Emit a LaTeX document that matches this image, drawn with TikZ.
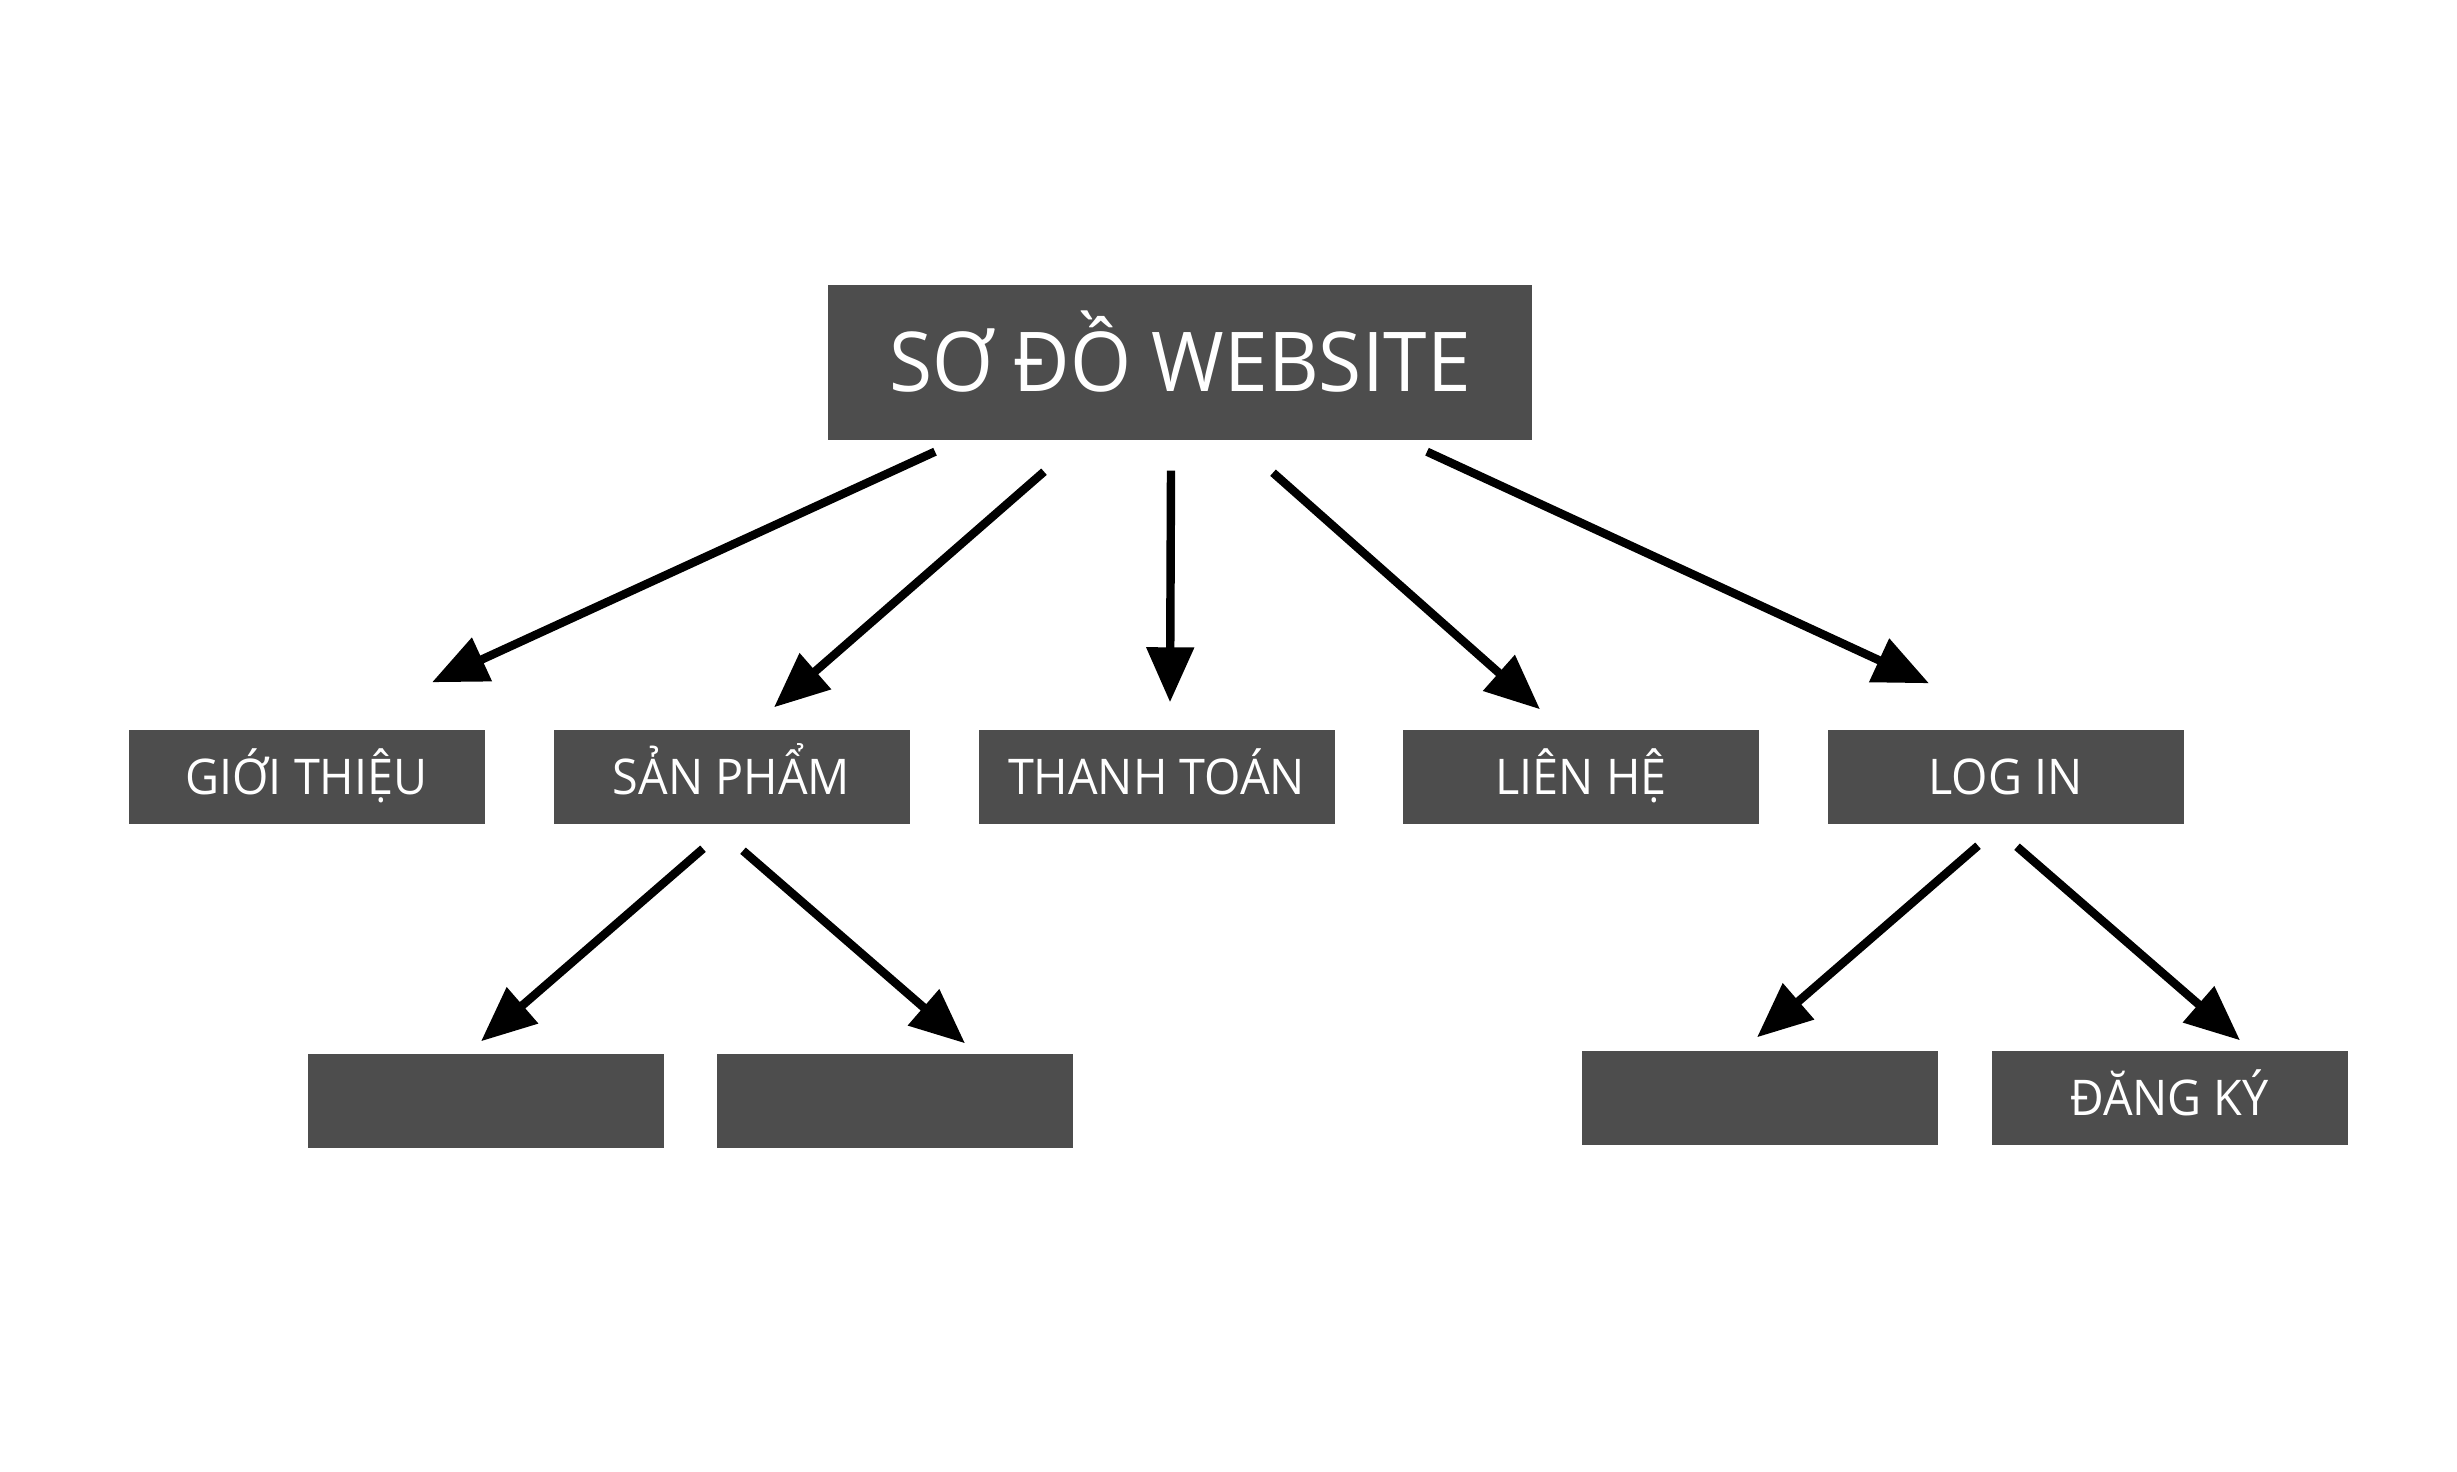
\documentclass[tikz,border=0pt]{standalone}
\usepackage{fontspec}
\setmainfont{Open Sans}[FakeStretch=0.95]
\usetikzlibrary{arrows.meta}
\definecolor{boxgray}{RGB}{77,77,77}
\begin{document}
\begin{tikzpicture}[
title/.style ={rectangle, fill=boxgray, text=white, inner sep=0pt,
  minimum width=7.04cm, minimum height=1.55cm,
  text height=0.58cm, text depth=0pt,
  font=\fontsize{23.5}{26}\selectfont
},
box/.style ={rectangle, fill=boxgray, text=white, inner sep=0pt,
  minimum width=3.56cm, minimum height=0.94cm,
  text height=0.35cm, text depth=0pt,
  font=\fontsize{14}{16}\selectfont
},
arrow/.style ={line width=2.4pt, draw=black,
  -{Triangle[length=5.5mm, width=4.6mm]}
}]
\fill[white] (0,0) rectangle (24.57,14.71);
\useasboundingbox (0,0) rectangle (24.57,14.71);
\node (top) at (11.80,11.085) [title] {SƠ ĐỒ WEBSITE};
\node (gioi) at (3.065,6.94) [box] {GIỚI THIỆU};
\node (sanpham) at (7.315,6.94) [box] {SẢN PHẨM};
\node (thanhtoan) at (11.565,6.94) [box] {THANH TOÁN};
\node (lienhe) at (15.81,6.94) [box] {LIÊN HỆ};
\node (login) at (20.055,6.94) [box] {LOG IN};
\node (sp1) at (4.855,3.70) [box] {};
\node (sp2) at (8.95,3.70) [box] {};
\node (li1) at (17.595,3.73) [box] {};
\node (dangky) at (21.695,3.73) [box] {ĐĂNG KÝ};
% top level
\draw[arrow] ([xshift=-2.45cm,yshift=-0.11cm]top.south) -- ([xshift=1.255cm,yshift=0.47cm]gioi.north);
\draw[arrow] ([xshift=-1.36cm,yshift=-0.31cm]top.south) -- ([xshift=0.425cm,yshift=0.22cm]sanpham.north);
\draw[arrow] ([xshift=-0.09cm,yshift=-0.30cm]top.south) -- ([xshift=0.135cm,yshift=0.27cm]thanhtoan.north);
\draw[arrow] ([xshift=0.93cm,yshift=-0.32cm]top.south) -- ([xshift=-0.41cm,yshift=0.20cm]lienhe.north);
\draw[arrow] ([xshift=2.47cm,yshift=-0.11cm]top.south) -- ([xshift=-0.765cm,yshift=0.46cm]login.north);
% second level
\draw[arrow] ([xshift=-0.285cm,yshift=-0.24cm]sanpham.south) -- ([xshift=-0.045cm,yshift=0.12cm]sp1.north);
\draw[arrow] ([xshift=0.115cm,yshift=-0.26cm]sanpham.south) -- ([xshift=0.70cm,yshift=0.10cm]sp2.north);
\draw[arrow] ([xshift=-0.275cm,yshift=-0.21cm]login.south) -- ([xshift=-0.025cm,yshift=0.13cm]li1.north);
\draw[arrow] ([xshift=0.115cm,yshift=-0.22cm]login.south) -- ([xshift=0.705cm,yshift=0.10cm]dangky.north);
\end{tikzpicture}
\end{document}
